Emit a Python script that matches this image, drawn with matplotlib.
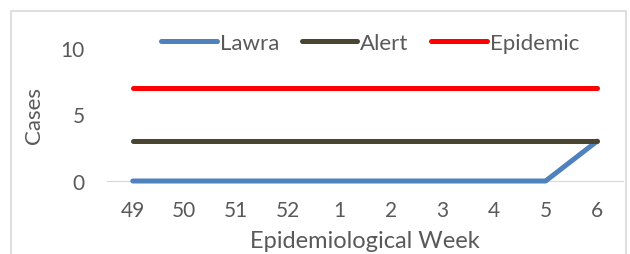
import matplotlib.pyplot as plt
from matplotlib.patches import Rectangle

weeks = ["49", "50", "51", "52", "1", "2", "3", "4", "5", "6"]
lawra = [0, 0, 0, 0, 0, 0, 0, 0, 0, 3]
alert = [3, 3, 3, 3, 3, 3, 3, 3, 3, 3]
epidemic = [7, 7, 7, 7, 7, 7, 7, 7, 7, 7]

plt.rcParams['font.family'] = ['Lato', 'DejaVu Sans']
txt = '#595959'

fig = plt.figure(figsize=(6.3, 2.55), dpi=100)
fig.patches.append(Rectangle((11 / 630, -0.2), 615 / 630, 1.2 - 12 / 255,
                             transform=fig.transFigure, fill=False,
                             edgecolor='#d9d9d9', linewidth=1.2))
ax = fig.add_axes([107 / 630, 1 - 182 / 255, 516 / 630, 133 / 255])

x = list(range(len(weeks)))
ax.plot(x, lawra, color='#4f81bd', lw=3.6, solid_capstyle='round', label='Lawra', clip_on=False)
ax.plot(x, alert, color='#4a4530', lw=3.6, solid_capstyle='round', label='Alert', clip_on=False)
ax.plot(x, epidemic, color='#ff0000', lw=3.6, solid_capstyle='round', label='Epidemic', clip_on=False)

ax.set_xlim(-0.5, len(weeks) - 0.5)
ax.set_ylim(0, 10)
ax.set_yticks([0, 5, 10])
ax.set_xticks(x)
ax.set_xticklabels(weeks)
for s in ['top', 'right', 'left']:
    ax.spines[s].set_visible(False)
ax.spines['bottom'].set_color('#d9d9d9')
ax.spines['bottom'].set_zorder(0)
ax.tick_params(length=0, labelsize=15, colors=txt, pad=14)
ax.tick_params(axis='y', pad=16)
ax.set_xlabel('Epidemiological Week', fontsize=17, color=txt, labelpad=7)
ax.set_ylabel('Cases', fontsize=16, color=txt, labelpad=12)

ax.legend(loc='center', bbox_to_anchor=(0.51, 1.04), ncol=3, frameon=False,
          fontsize=16, labelcolor=txt, handlelength=2.5, handletextpad=0.15,
          columnspacing=1.0)

fig.savefig('out.png', dpi=100)
